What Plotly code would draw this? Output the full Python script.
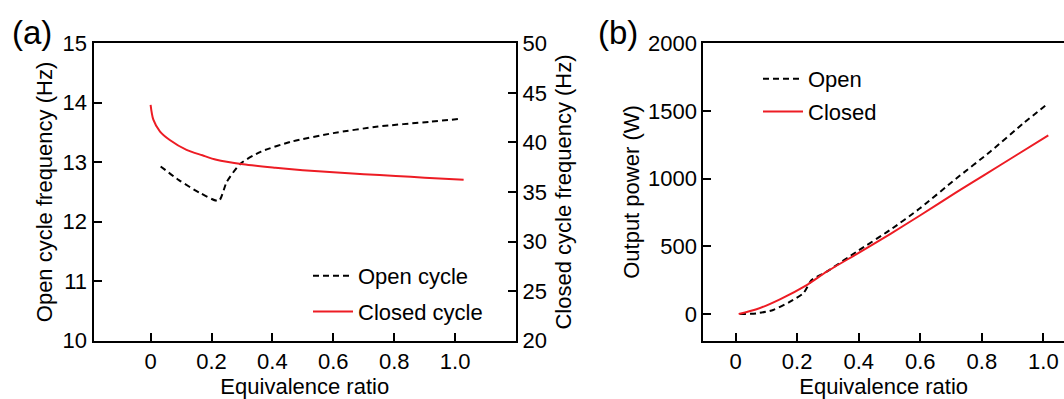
import plotly.graph_objects as go

# ---------------- data ----------------
# Panel (a): frequency vs equivalence ratio
open_a_x = [0.033, 0.093, 0.160, 0.224, 0.250, 0.296, 0.363, 0.465, 0.600, 0.747, 0.916, 1.018]
open_a_y = [12.93, 12.70, 12.49, 12.35, 12.67, 12.98, 13.18, 13.35, 13.49, 13.60, 13.68, 13.73]

closed_a_x = [0.0, 0.009, 0.031, 0.063, 0.118, 0.17, 0.216, 0.304, 0.41, 0.5, 0.6, 0.7, 0.805, 0.9, 1.028]
closed_a_y = [43.8, 42.3, 41.1, 40.25, 39.25, 38.7, 38.25, 37.8, 37.45, 37.2, 36.98, 36.8, 36.62, 36.45, 36.23]

# Panel (b): output power vs equivalence ratio
open_b_x = [0.014, 0.068, 0.122, 0.177, 0.220, 0.247, 0.296, 0.393, 0.502, 0.599, 0.718, 0.827, 0.935, 1.013]
open_b_y = [0, 5, 30, 91, 153, 251, 313, 460, 621, 781, 1003, 1199, 1409, 1552]

closed_b_x = [0.010, 0.068, 0.144, 0.231, 0.296, 0.393, 0.502, 0.599, 0.718, 0.805, 0.913, 1.016]
closed_b_y = [0, 35, 109, 214, 313, 443, 591, 728, 900, 1022, 1175, 1320]

x_ticks = [0, 0.2, 0.4, 0.6, 0.8, 1.0]
x_ticktext = ["0", "0.2", "0.4", "0.6", "0.8", "1.0"]
ya_left_ticks = [10, 11, 12, 13, 14, 15]
ya_right_ticks = [20, 25, 30, 35, 40, 45, 50]
yb_ticks = [0, 500, 1000, 1500, 2000]

# ---------------- style ----------------
W, H = 1064, 399
FONT = "Liberation Sans, Arial, Helvetica, sans-serif"
FS = 22
RED = "#ED1C24"
BLACK = "#000000"
DASH = "6px,4px"

fig = go.Figure()

fig.add_trace(go.Scatter(x=open_a_x, y=open_a_y, mode="lines", name="Open cycle",
                         line=dict(color=BLACK, width=2, dash=DASH, shape="spline", smoothing=0.6),
                         xaxis="x", yaxis="y", legend="legend", legendgroup="a1"))
fig.add_trace(go.Scatter(x=closed_a_x, y=closed_a_y, mode="lines", name="Closed cycle",
                         line=dict(color=RED, width=2, shape="spline", smoothing=0.8),
                         xaxis="x", yaxis="y2", legend="legend", legendgroup="a2"))
fig.add_trace(go.Scatter(x=open_b_x, y=open_b_y, mode="lines", name="Open",
                         line=dict(color=BLACK, width=2, dash=DASH, shape="spline", smoothing=0.6),
                         xaxis="x2", yaxis="y3", legend="legend2", legendgroup="b1"))
fig.add_trace(go.Scatter(x=closed_b_x, y=closed_b_y, mode="lines", name="Closed",
                         line=dict(color=RED, width=2, shape="spline", smoothing=0.6),
                         xaxis="x2", yaxis="y3", legend="legend2", legendgroup="b2"))

ydom = [(H - 340.7) / H, (H - 43.3) / H]
axis_common = dict(showline=True, linecolor=BLACK, linewidth=2, ticks="inside", ticklen=8,
                   tickwidth=2, tickcolor=BLACK, showgrid=False, zeroline=False,
                   tickfont=dict(family=FONT, size=FS, color=BLACK), automargin=False)

fig.update_layout(
    width=W, height=H,
    margin=dict(l=0, r=0, t=0, b=0),
    paper_bgcolor="white", plot_bgcolor="white",
    font=dict(family=FONT, size=FS, color=BLACK),
    xaxis=dict(domain=[93.5 / W, 516 / W], range=[-0.1875, 1.2], tickvals=x_ticks, ticktext=x_ticktext,
               mirror=True, anchor="y",
               title=dict(text="Equivalence ratio", font=dict(family=FONT, size=FS), standoff=8),
               **axis_common),
    yaxis=dict(domain=ydom, range=[10, 15], tickvals=ya_left_ticks, anchor="x",
               title=dict(text="Open cycle frequency (Hz)", font=dict(family=FONT, size=FS), standoff=4),
               **axis_common),
    yaxis2=dict(domain=ydom, range=[20, 50], tickvals=ya_right_ticks, anchor="x", overlaying="y", side="right",
                title=dict(text="Closed cycle frequency (Hz)", font=dict(family=FONT, size=FS), standoff=10),
                **axis_common),
    xaxis2=dict(domain=[703.3 / W, 1.0], range=[-0.105, 1.067], tickvals=x_ticks, ticktext=x_ticktext,
                mirror=True, anchor="y3",
                title=dict(text="Equivalence ratio", font=dict(family=FONT, size=FS), standoff=8),
                **axis_common),
    yaxis3=dict(domain=ydom, range=[-197, 2000], tickvals=yb_ticks, anchor="x2",
                title=dict(text="Output power (W)", font=dict(family=FONT, size=FS), standoff=2),
                **axis_common),
    legend=dict(x=308 / W, y=1 - 255 / H, xanchor="left", yanchor="top", bgcolor="rgba(0,0,0,0)",
                font=dict(family=FONT, size=FS), tracegroupgap=4, itemwidth=40),
    legend2=dict(x=758 / W, y=1 - 58 / H, xanchor="left", yanchor="top", bgcolor="rgba(0,0,0,0)",
                 font=dict(family=FONT, size=FS), tracegroupgap=1, itemwidth=40),
    showlegend=True,
    annotations=[
        dict(text="(a)", x=32 / W, y=1 - 32 / H, xref="paper", yref="paper", showarrow=False,
             xanchor="center", yanchor="middle", font=dict(family=FONT, size=33, color=BLACK)),
        dict(text="(b)", x=618 / W, y=1 - 32 / H, xref="paper", yref="paper", showarrow=False,
             xanchor="center", yanchor="middle", font=dict(family=FONT, size=33, color=BLACK)),
    ],
)

fig.write_html("out.html", config={"displayModeBar": False},
               post_script="document.body.style.margin='0';document.body.style.overflow='hidden';")
